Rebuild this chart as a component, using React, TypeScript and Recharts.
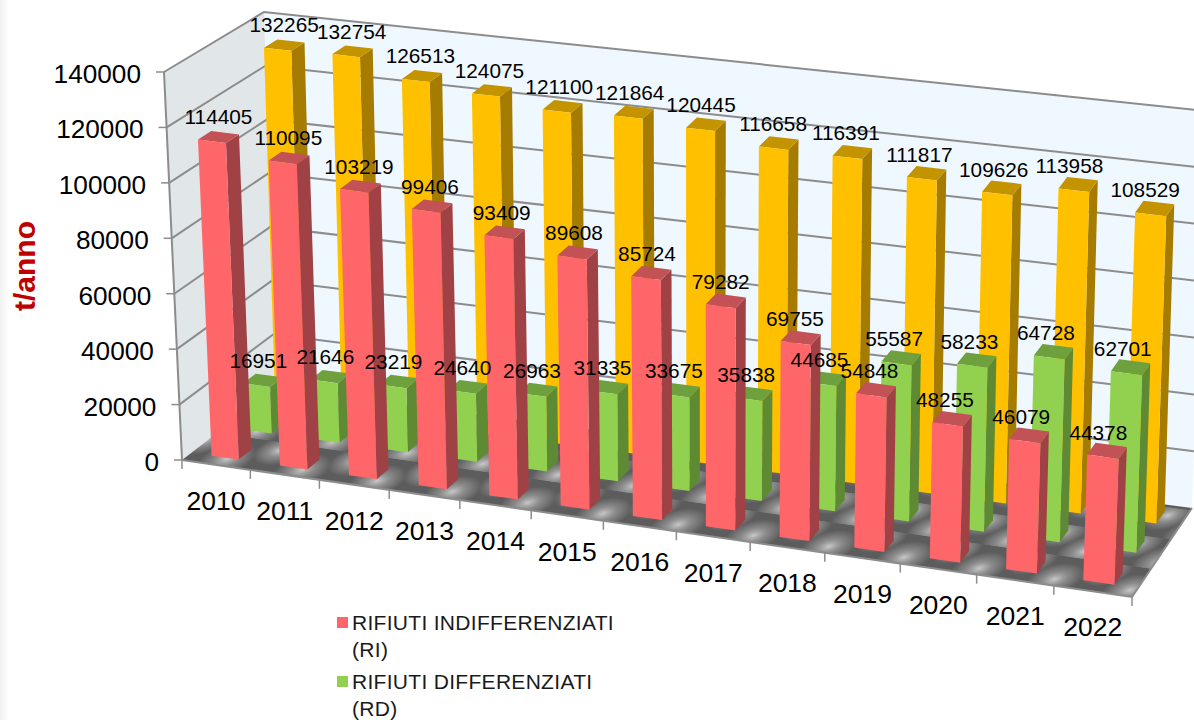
import { Bar, BarChart, LabelList, Legend, XAxis, YAxis } from "recharts";

const years = ["2010", "2011", "2012", "2013", "2014", "2015", "2016", "2017", "2018", "2019", "2020", "2021", "2022"];
const indifferenziati = [114405, 110095, 103219, 99406, 93409, 89608, 85724, 79282, 69755, 54848, 48255, 46079, 44378];
const differenziati = [16951, 21646, 23219, 24640, 26963, 31335, 33675, 35838, 44685, 55587, 58233, 64728, 62701];
const totali = [132265, 132754, 126513, 124075, 121100, 121864, 120445, 116658, 116391, 111817, 109626, 113958, 108529];
const valueTicks = [0, 20000, 40000, 60000, 80000, 100000, 120000, 140000];

const data = years.map((year, i) => ({
  year,
  ri: indifferenziati[i],
  rd: differenziati[i],
  tot: totali[i],
}));

const FONT = "'Liberation Sans', Arial, sans-serif";
const LINE = "#8c8c8c";

// flat plot area handed to recharts, every mark is then projected out of it
const PLOT = { x: 100, y: 100, w: 1000, h: 400 };

// corners of the 3d box as they land on the page
const FL = [182, 460];
const FR = [1132, 597];
const BL = [275, 388];
const BR = [1192, 508];
const TFL = [164, 72];
const TFR = [1146, 200];
const TBL = [264, 12];
const TBR = [1205, 111];
const PERSP = -0.07;

const mix = (a: number[], b: number[], t: number) => [a[0] + (b[0] - a[0]) * t, a[1] + (b[1] - a[1]) * t];

function project(u: number, d: number, h: number) {
  const k = (u * (1 + PERSP)) / (1 + PERSP * u);
  const floor = mix(mix(FL, FR, k), mix(BL, BR, k), d);
  const top = mix(mix(TFL, TFR, k), mix(TBL, TBR, k), d);
  return mix(floor, top, h);
}

const toU = (x: number) => (x - PLOT.x) / PLOT.w;
const toH = (y: number) => (PLOT.y + PLOT.h - y) / PLOT.h;
const pts = (list: number[][]) => list.map((p) => `${p[0].toFixed(1)},${p[1].toFixed(1)}`).join(" ");

interface Layer {
  d0: number;
  d1: number;
  front: string;
  top: string;
  side: string;
  labelDx: number[];
}

const RED: Layer = { d0: 0.1, d1: 0.235, front: "#ff6669", top: "#c25256", side: "#a04145", labelDx: [7, -5] };
const GREEN: Layer = { d0: 0.46, d1: 0.595, front: "#92d050", top: "#6ea03d", side: "#5f8a34", labelDx: [2, -4] };
const YELLOW: Layer = { d0: 0.79, d1: 0.925, front: "#ffc000", top: "#c49300", side: "#a57c00", labelDx: [7, -6] };

function barShape(layer: Layer) {
  return (props: any) => {
    const { x, y, width } = props;
    const u0 = toU(x);
    const u1 = toU(x + width);
    const h = toH(y);
    const { d0, d1 } = layer;
    return (
      <g>
        <polygon fill={layer.side} points={pts([project(u1, d0, 0), project(u1, d1, 0), project(u1, d1, h), project(u1, d0, h)])} />
        <polygon fill={layer.top} points={pts([project(u0, d0, h), project(u1, d0, h), project(u1, d1, h), project(u0, d1, h)])} />
        <polygon fill={layer.front} points={pts([project(u0, d0, 0), project(u1, d0, 0), project(u1, d0, h), project(u0, d0, h)])} />
      </g>
    );
  };
}

function barLabel(layer: Layer) {
  return (props: any) => {
    const { x, y, width, value } = props;
    const u = toU(x + width / 2);
    const p = project(u, layer.d0, toH(y));
    const dx = layer.labelDx[0] + (layer.labelDx[1] - layer.labelDx[0]) * u;
    return (
      <text x={p[0] + dx} y={p[1] - 17} textAnchor="middle" fontFamily={FONT} fontSize={20.8} fill="#000">
        {value}
      </text>
    );
  };
}

function YTick(props: any) {
  const h = toH(props.y);
  const p = project(0, 0, h);
  return (
    <g>
      <line x1={p[0] - 8} y1={p[1]} x2={p[0]} y2={p[1]} stroke={LINE} strokeWidth={1.5} />
      <text x={p[0] - 23} y={p[1] + 11} textAnchor="end" fontFamily={FONT} fontSize={26.2} fill="#000">
        {props.payload.value}
      </text>
    </g>
  );
}

function XTick(props: any) {
  const u = toU(props.x);
  const p = project(u, 0, 0);
  const edge = project(u + 1 / (2 * years.length), 0, 0);
  return (
    <g>
      <line x1={edge[0]} y1={edge[1]} x2={edge[0]} y2={edge[1] + 9} stroke={LINE} strokeWidth={1.5} />
      <text x={p[0]} y={p[1] + 45} textAnchor="middle" fontFamily={FONT} fontSize={26.5} fill="#000">
        {props.payload.value}
      </text>
    </g>
  );
}

function Walls() {
  const first = project(0, 0, 0);
  return (
    <g>
      <defs>
        <linearGradient id="page-edge" x1="0" y1="0" x2="1" y2="0">
          <stop offset="0%" stopColor="#f1f1f1" />
          <stop offset="100%" stopColor="#ffffff" />
        </linearGradient>
        <radialGradient id="floor-blob">
          <stop offset="0%" stopColor="#c9c9c9" />
          <stop offset="45%" stopColor="#a8a8a8" stopOpacity={0.6} />
          <stop offset="100%" stopColor="#a8a8a8" stopOpacity={0} />
        </radialGradient>
        {/* tile follows the floor directions */}
        <pattern
          id="floor-tile"
          patternUnits="userSpaceOnUse"
          width={76}
          height={42}
          patternTransform={`matrix(0.99 0.144 0.72 -0.66 ${FL[0]} ${FL[1]})`}
        >
          <rect width={76} height={42} fill="#5c5c5c" />
          <circle cx={38} cy={10} r={24} fill="url(#floor-blob)" />
          <circle cx={0} cy={31} r={22} fill="url(#floor-blob)" />
          <circle cx={76} cy={31} r={22} fill="url(#floor-blob)" />
        </pattern>
      </defs>
      <rect x={0} y={0} width={9} height={720} fill="url(#page-edge)" />
      <polygon points={pts([BL, TBL, TBR, BR])} fill="#eff8fe" />
      <polygon points={pts([FL, TFL, TBL, BL])} fill="#e1e6e9" />
      <polygon points={pts([FL, FR, BR, BL])} fill="url(#floor-tile)" />
      {valueTicks.map((v) => {
        const h = v / valueTicks[valueTicks.length - 1];
        return (
          <polyline
            key={v}
            points={pts([project(0, 0, h), project(0, 1, h), project(1, 1, h)])}
            fill="none"
            stroke={LINE}
            strokeWidth={v === 0 ? 0 : 2}
          />
        );
      })}
      <line x1={FL[0]} y1={FL[1]} x2={TFL[0]} y2={TFL[1]} stroke={LINE} strokeWidth={2} />
      <polyline points={pts([FL, FR, BR])} fill="none" stroke={LINE} strokeWidth={2} />
      <line x1={first[0]} y1={first[1]} x2={first[0]} y2={first[1] + 9} stroke={LINE} strokeWidth={1.5} />
    </g>
  );
}

function LegendBox(props: any) {
  const items = [...(props.payload || [])].filter((item: any) => item.type !== "none").reverse();
  return (
    <div style={{ fontFamily: FONT, fontSize: 21, lineHeight: "27px", color: "#1a1a1a", letterSpacing: 0.3 }}>
      {items.map((item: any, i: number) => (
        <div key={item.value} style={{ position: "relative", paddingLeft: 15, marginTop: i === 0 ? 0 : 5 }}>
          <span
            style={{
              position: "absolute",
              left: 0,
              top: 8,
              width: 11,
              height: 11,
              background: item.color,
            }}
          />
          {item.value}
        </div>
      ))}
    </div>
  );
}

export default function App() {
  return (
    <div style={{ position: "fixed", left: 0, top: 0, width: 1194, height: 720, overflow: "hidden", background: "#fff" }}>
      <BarChart
        width={1194}
        height={720}
        data={data}
        margin={{ left: PLOT.x - 1, top: PLOT.y, right: 1194 - PLOT.x - PLOT.w, bottom: 720 - PLOT.y - PLOT.h - 1 }}
        barSize={(0.4 * PLOT.w) / years.length}
      >
        <Walls />
        <XAxis xAxisId="ri" dataKey="year" height={1} interval={0} axisLine={false} tickLine={false} tick={<XTick />} />
        <XAxis xAxisId="rd" dataKey="year" hide />
        <XAxis xAxisId="tot" dataKey="year" hide />
        <YAxis width={1} domain={[0, 140000]} ticks={valueTicks} interval={0} axisLine={false} tickLine={false} tick={<YTick />} />

        <Bar xAxisId="tot" dataKey="tot" name="RIFIUTI TOTALI" fill={YELLOW.front} legendType="none" isAnimationActive={false} shape={barShape(YELLOW)}>
          <LabelList dataKey="tot" content={barLabel(YELLOW)} />
        </Bar>
        <Bar xAxisId="rd" dataKey="rd" name="RIFIUTI DIFFERENZIATI (RD)" fill={GREEN.front} isAnimationActive={false} shape={barShape(GREEN)}>
          <LabelList dataKey="rd" content={barLabel(GREEN)} />
        </Bar>
        <Bar xAxisId="ri" dataKey="ri" name="RIFIUTI INDIFFERENZIATI (RI)" fill={RED.front} isAnimationActive={false} shape={barShape(RED)}>
          <LabelList dataKey="ri" content={barLabel(RED)} />
        </Bar>

        <Legend
          layout="vertical"
          align="center"
          verticalAlign="middle"
          content={<LegendBox />}
          wrapperStyle={{ left: 337, top: 609, width: 285 }}
        />

        <text
          transform="translate(35 266) rotate(-90)"
          textAnchor="middle"
          fontFamily={FONT}
          fontSize={30}
          fontWeight="bold"
          fill="#c00000"
        >
          t/anno
        </text>
      </BarChart>
    </div>
  );
}
